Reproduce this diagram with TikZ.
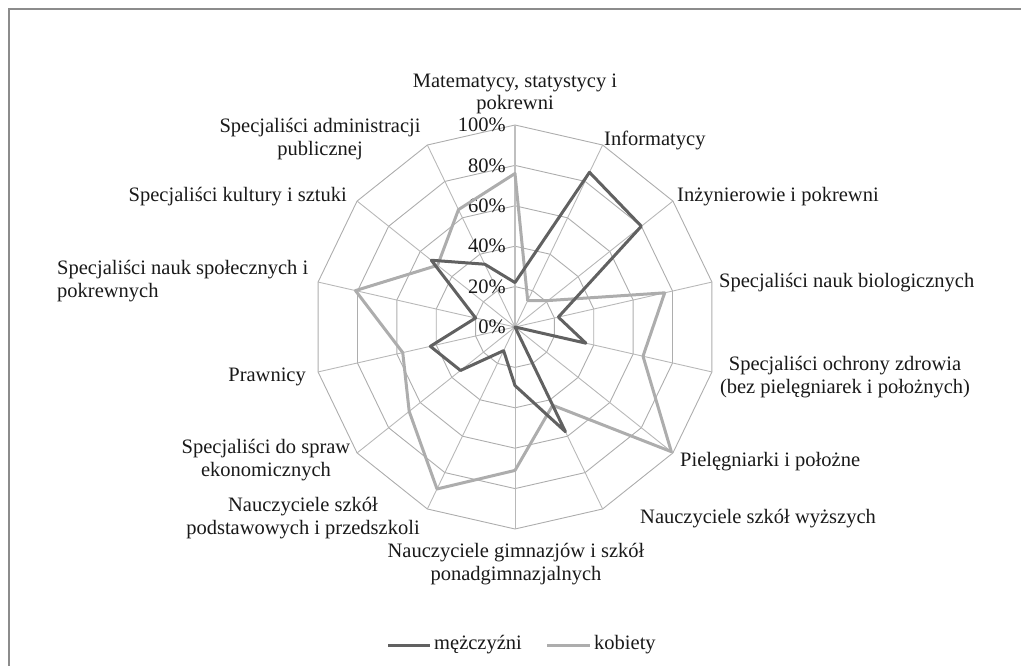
\documentclass[tikz,border=0pt]{standalone}
\usepackage{fontspec}
\setmainfont{Liberation Serif}
\begin{document}
\begin{tikzpicture}[x=1pt,y=1pt,
  ringline/.style={draw=black!32, line width=0.9pt},
  spoke/.style={draw=black!28, line width=0.9pt},
  valaxis/.style={draw=black!25, line width=1.8pt},
  men/.style={draw=black!62, line width=3pt, line join=round},
  women/.style={draw=black!32, line width=3pt, line join=round},
  lab/.style={font=\fontsize{20.5}{22.5}\selectfont, inner sep=0pt, align=center, text=black!90},
  tick/.style={font=\fontsize{20.5}{22}\selectfont, inner sep=0pt, anchor=east, text=black!90}]
\useasboundingbox (0,0) rectangle (1021,-666);
\draw[black!45, line width=2pt] (9,-700) -- (9,-9) -- (1040,-9);
\begin{scope}[shift={(515,-327)}]
  \coordinate (C) at (0,0);
  % rings
  \foreach \r in {40.4,80.8,121.2,161.6,202} {
    \draw[ringline] (90:\r) \foreach \k in {1,...,13} { -- ({90-\k*360/14}:\r) } -- cycle;
  }
  % spokes
  \foreach \k in {1,...,13} {
    \coordinate (s\k) at ({90-\k*360/14}:202);
    \draw[spoke] (C) -- (s\k);
  }
  \coordinate (s0) at (90:202);
  \draw[valaxis] (C) -- (s0);
  % tick labels
  \foreach \i/\t in {0/0\%,1/20\%,2/40\%,3/60\%,4/80\%,5/100\%} {
    \node[tick] (t\i) at (-9,{\i*40.4}) {\t};
  }
  % data
  \foreach \v [count=\k from 0] in {0.22,0.85,0.80,0.22,0.36,0.0,0.575,0.29,0.13,0.345,0.43,0.20,0.53,0.345}
    \coordinate (m\k) at ({90-\k*360/14}:{\v*202});
  \foreach \v [count=\k from 0] in {0.76,0.145,0.21,0.76,0.65,0.99,0.43,0.71,0.89,0.67,0.57,0.81,0.49,0.645}
    \coordinate (w\k) at ({90-\k*360/14}:{\v*202});
  \draw[women] (w0) -- (w1) -- (w2) -- (w3) -- (w4) -- (w5) -- (w6) -- (w7) -- (w8) -- (w9) -- (w10) -- (w11) -- (w12) -- (w13) -- cycle;
  \draw[men] (m0) -- (m1) -- (m2) -- (m3) -- (m4) -- (m5) -- (m6) -- (m7) -- (m8) -- (m9) -- (m10) -- (m11) -- (m12) -- (m13) -- cycle;
\end{scope}
% axis labels
\node[lab] (L0) at (515,-94) {Matematycy, statystycy i\\pokrewni};
\node[lab, anchor=west] (L1) at (604,-140) {Informatycy};
\node[lab, anchor=west] (L2) at (677,-197) {Inżynierowie i pokrewni};
\node[lab, anchor=west] (L3) at (719,-283) {Specjaliści nauk biologicznych};
\node[lab] (L4) at (845,-377) {Specjaliści ochrony zdrowia\\(bez pielęgniarek i położnych)};
\node[lab, anchor=west] (L5) at (680,-462) {Pielęgniarki i położne};
\node[lab, anchor=west] (L6) at (640,-519) {Nauczyciele szkół wyższych};
\node[lab] (L7) at (516,-564) {Nauczyciele gimnazjów i szkół\\ponadgimnazjalnych};
\node[lab] (L8) at (303,-518) {Nauczyciele szkół\\podstawowych i przedszkoli};
\node[lab] (L9) at (266,-460) {Specjaliści do spraw\\ekonomicznych};
\node[lab, anchor=east] (L10) at (306,-377) {Prawnicy};
\node[lab, anchor=west, align=left] (L11) at (57,-281) {Specjaliści nauk społecznych i\\pokrewnych};
\node[lab, anchor=east] (L12) at (347,-197) {Specjaliści kultury i sztuki};
\node[lab] (L13) at (320,-139) {Specjaliści administracji\\publicznej};
% legend
\coordinate (lm1) at (388,-645);
\coordinate (lm2) at (430,-645);
\coordinate (lw1) at (547,-645);
\coordinate (lw2) at (590,-645);
\draw[men, line cap=butt] (lm1) -- (lm2);
\draw[women, line cap=butt] (lw1) -- (lw2);
\node[lab, anchor=west] (lgm) at (434,-645) {mężczyźni};
\node[lab, anchor=west] (lgw) at (594,-645) {kobiety};
\end{tikzpicture}
\end{document}
